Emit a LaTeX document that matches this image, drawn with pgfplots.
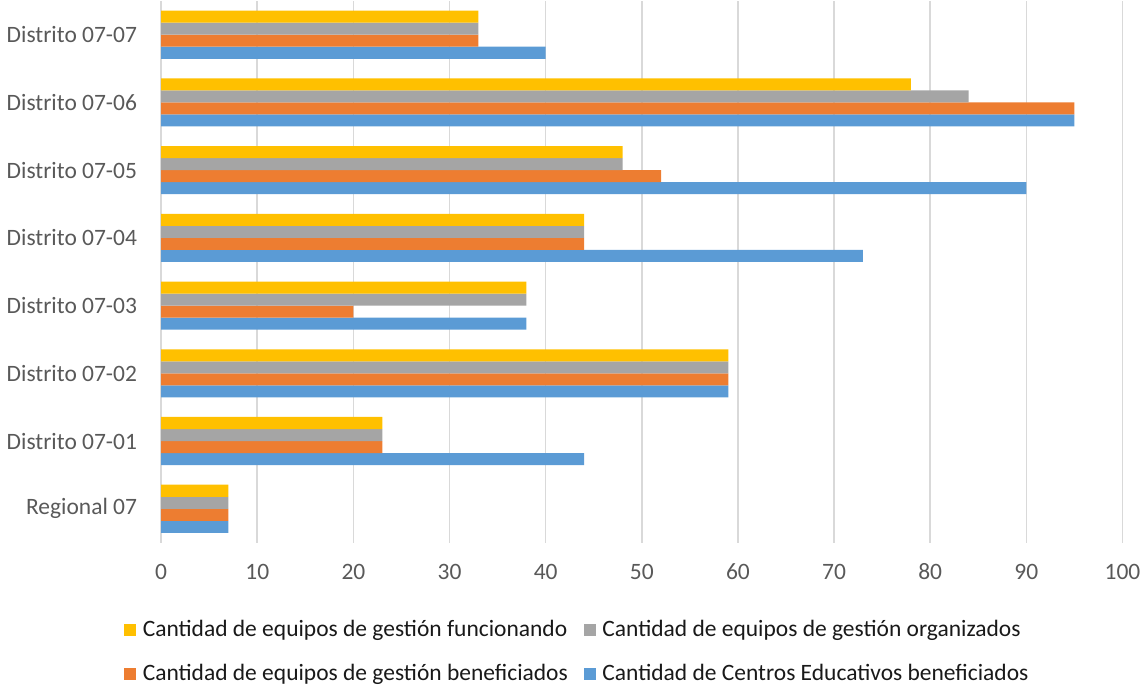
\documentclass[border=0pt]{standalone}
\usepackage{pgfplots}
\pgfplotsset{compat=1.18}
\usepackage{fontspec}
\setmainfont{Carlito}
\definecolor{cyel}{HTML}{FFC000}
\definecolor{cgray}{HTML}{A5A5A5}
\definecolor{corg}{HTML}{ED7D31}
\definecolor{cblue}{HTML}{5B9BD5}
\definecolor{cgrid}{HTML}{D9D9D9}
\definecolor{ctick}{HTML}{595959}
\begin{document}
\begin{tikzpicture}
\begin{axis}[
  scale only axis,
  width=479pt, height=270pt,
  xbar=0pt, bar width=6pt,
  xmin=0, xmax=100, xtick={0,10,...,100},
  ymin=-0.5, ymax=7.5,
  ytick={0,...,7},
  yticklabels={Regional 07,Distrito 07-01,Distrito 07-02,Distrito 07-03,Distrito 07-04,Distrito 07-05,Distrito 07-06,Distrito 07-07},
  xmajorgrids, major grid style={cgrid, line width=0.8pt},
  axis line style={draw=none},
  major tick length=0pt,
  tick label style={font=\fontsize{11.7}{14}\selectfont, text=ctick},
  /pgf/number format/assume math mode=true,
  xticklabel style={yshift=-7pt},
  yticklabel style={xshift=-8.5pt},
  legend columns=2, reverse legend,
  legend style={at={(0.434,-0.202)}, anchor=center, draw=none, fill=none,
    font=\fontsize{11.7}{14}\selectfont, text=black!90,
    /tikz/every odd column/.append style={column sep=1.2pt},
    /tikz/every even column/.append style={column sep=6pt},
    row sep=8.5pt, inner sep=0pt},
  legend image code/.code={\fill[#1] (0pt,-3pt) rectangle (6pt,3pt);},
  legend cell align=left,
]
\addplot[fill=cblue, draw=none] coordinates {(7,0) (44,1) (59,2) (38,3) (73,4) (90,5) (95,6) (40,7)};
\addplot[fill=corg, draw=none] coordinates {(7,0) (23,1) (59,2) (20,3) (44,4) (52,5) (95,6) (33,7)};
\addplot[fill=cgray, draw=none] coordinates {(7,0) (23,1) (59,2) (38,3) (44,4) (48,5) (84,6) (33,7)};
\addplot[fill=cyel, draw=none] coordinates {(7,0) (23,1) (59,2) (38,3) (44,4) (48,5) (78,6) (33,7)};
\legend{Cantidad de Centros Educativos beneficiados,Cantidad de equipos de gestión beneficiados,Cantidad de equipos de gestión organizados,Cantidad de equipos de gestión funcionando}
\end{axis}
\end{tikzpicture}
\end{document}
